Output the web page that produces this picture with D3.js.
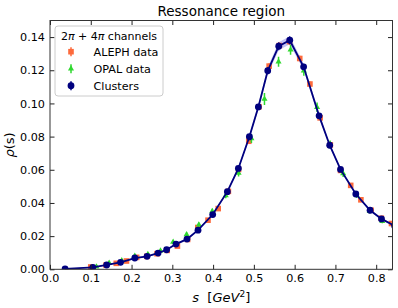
<!DOCTYPE html>
<html>
<head>
<meta charset="utf-8">
<script src="https://cdn.jsdelivr.net/npm/d3@7"></script>
<style>
  body { margin: 0; background: #fff; }
  text { font-family: "DejaVu Sans", sans-serif; fill: #000; }
</style>
</head>
<body>
<div id="chart"></div>
<script>
// cluster points (navy)
var clusterS = [0.037,0.105,0.139,0.173,0.208,0.238,0.265,0.286,0.309,0.336,0.363,0.399,0.435,0.462,0.489,0.511,0.534,0.561,0.588,0.622,0.660,0.686,0.7125,0.750,0.785,0.813,0.845];
var clusterRho = [0.0002,0.0012,0.0026,0.0042,0.0068,0.0078,0.0098,0.0118,0.0152,0.0182,0.0236,0.0330,0.0468,0.0608,0.0799,0.0979,0.1197,0.1345,0.1381,0.1221,0.0925,0.0748,0.0602,0.0454,0.0356,0.0304,0.0262];
var clusterErr = [0.0002,0.0003,0.0003,0.0003,0.0004,0.0004,0.0004,0.0005,0.0005,0.0006,0.0006,0.0007,0.0009,0.0011,0.0014,0.0017,0.0021,0.0024,0.0024,0.0019,0.0014,0.0011,0.0009,0.0008,0.0007,0.0006,0.0006];

// ALEPH data (orange squares)
var alephS = [0.100,0.1375,0.1625,0.1875,0.2125,0.2375,0.2625,0.2875,0.3125,0.3375,0.3625,0.3875,0.4125,0.4375,0.4625,0.4875,0.5125,0.5375,0.5625,0.5875,0.6125,0.6375,0.6625,0.6875,0.7125,0.7375,0.7625,0.7875,0.8125,0.8375];
var alephRho = [0.0014,0.0025,0.0036,0.0050,0.0072,0.0078,0.0094,0.0114,0.0140,0.0180,0.0252,0.0296,0.0366,0.0470,0.0602,0.0772,0.0980,0.1225,0.1349,0.1373,0.1271,0.1117,0.0913,0.0750,0.0596,0.0506,0.0419,0.0356,0.0308,0.0276];
var alephErr = [0.0004,0.0004,0.0004,0.0004,0.0005,0.0005,0.0005,0.0006,0.0006,0.0007,0.0008,0.0008,0.0009,0.0010,0.0012,0.0014,0.0016,0.0018,0.0019,0.0019,0.0017,0.0015,0.0013,0.0011,0.0010,0.0009,0.0008,0.0008,0.0008,0.0008];

// OPAL data (green triangles)
var opalS = [0.114,0.145,0.176,0.208,0.240,0.271,0.302,0.335,0.365,0.398,0.431,0.4625,0.494,0.526,0.5605,0.590,0.6225,0.655,0.687,0.719,0.752,0.784,0.815];
var opalRho = [0.0016,0.0038,0.0053,0.0080,0.0091,0.0112,0.0164,0.0210,0.0269,0.0350,0.0445,0.0580,0.0788,0.1027,0.1251,0.1324,0.1197,0.0977,0.0753,0.0577,0.0446,0.0350,0.0290];
var opalErr = [0.0008,0.0008,0.0009,0.0009,0.0010,0.0010,0.0011,0.0012,0.0013,0.0015,0.0017,0.0020,0.0027,0.0036,0.0030,0.0030,0.0030,0.0028,0.0024,0.0020,0.0016,0.0014,0.0013];

var xTicks = [0.0,0.1,0.2,0.3,0.4,0.5,0.6,0.7,0.8];
var yTicks = [0.00,0.02,0.04,0.06,0.08,0.10,0.12,0.14];

var width = 398, height = 308;
var margin = {top: 20.5, right: 5.5, bottom: 38.7, left: 50};
var iw = width - margin.left - margin.right;
var ih = height - margin.top - margin.bottom;

var cOrange = '#fd6a3c', cGreen = '#2fd82f', cNavy = '#00007f';

var svg = d3.select('#chart').append('svg')
  .attr('width', width)
  .attr('height', height);

var x = d3.scaleLinear().domain([0, 0.84]).range([0, iw]);
var y = d3.scaleLinear().domain([0, 0.15]).range([ih, 0]);

var g = svg.append('g').attr('transform', 'translate(' + margin.left + ',' + margin.top + ')');

svg.append('defs').append('clipPath').attr('id', 'clip')
  .append('rect').attr('width', iw).attr('height', ih);

var plot = g.append('g').attr('clip-path', 'url(#clip)');

var clusters = clusterS.map(function(s, i) { return {s: s, r: clusterRho[i], e: clusterErr[i]}; });
var aleph = alephS.map(function(s, i) { return {s: s, r: alephRho[i], e: alephErr[i]}; });
var opal = opalS.map(function(s, i) { return {s: s, r: opalRho[i], e: opalErr[i]}; });

// band round the cluster line
var area = d3.area()
  .x(function(d) { return x(d.s); })
  .y0(function(d) { return y(d.r - d.e); })
  .y1(function(d) { return y(d.r + d.e); });
plot.append('path').datum(clusters)
  .attr('d', area)
  .style('fill', '#9a9af0')
  .style('opacity', 0.6);

var errBars = function(data, color, w) {
  plot.append('g').selectAll('line')
    .data(data)
    .enter()
    .append('line')
    .attr('x1', function(d) { return x(d.s); })
    .attr('x2', function(d) { return x(d.s); })
    .attr('y1', function(d) { return y(d.r - d.e); })
    .attr('y2', function(d) { return y(d.r + d.e); })
    .style('stroke', color)
    .style('stroke-width', w);
};

// ALEPH
errBars(aleph, cOrange, 1.5);
plot.append('g').selectAll('rect')
  .data(aleph)
  .enter()
  .append('rect')
  .attr('x', function(d) { return x(d.s) - 2.8; })
  .attr('y', function(d) { return y(d.r) - 2.8; })
  .attr('width', 5.6)
  .attr('height', 5.6)
  .style('fill', cOrange);

// OPAL
errBars(opal, cGreen, 1.5);
var tri = d3.symbol().type(d3.symbolTriangle).size(16);
plot.append('g').selectAll('path')
  .data(opal)
  .enter()
  .append('path')
  .attr('d', tri)
  .attr('transform', function(d) { return 'translate(' + x(d.s) + ',' + y(d.r) + ')'; })
  .style('fill', cGreen);

// clusters
var line = d3.line()
  .x(function(d) { return x(d.s); })
  .y(function(d) { return y(d.r); });
plot.append('path').datum(clusters)
  .attr('d', line)
  .style('fill', 'none')
  .style('stroke', cNavy)
  .style('stroke-width', 1.8);
errBars(clusters, cNavy, 1.2);
plot.append('g').selectAll('circle')
  .data(clusters)
  .enter()
  .append('circle')
  .attr('cx', function(d) { return x(d.s); })
  .attr('cy', function(d) { return y(d.r); })
  .attr('r', 3.4)
  .style('fill', cNavy);

// axes, ticks pointing in
var axStyle = function(sel) {
  sel.select('.domain').remove();
  sel.selectAll('.tick line').style('stroke', '#222');
  sel.selectAll('text').style('font-size', '11.2px').style('font-family', '"DejaVu Sans", sans-serif');
};
g.append('g').attr('transform', 'translate(0,' + ih + ')')
  .call(d3.axisBottom(x).tickValues(xTicks).tickFormat(d3.format('.1f')).tickSizeInner(-4.5).tickPadding(5))
  .call(axStyle);
g.append('g')
  .call(d3.axisLeft(y).tickValues(yTicks).tickFormat(d3.format('.2f')).tickSizeInner(-4.5).tickPadding(5))
  .call(axStyle);
g.append('g')
  .call(d3.axisTop(x).tickValues(xTicks).tickFormat('').tickSizeInner(-4.5))
  .call(axStyle);
g.append('g').attr('transform', 'translate(' + iw + ',0)')
  .call(d3.axisRight(y).tickValues(yTicks).tickFormat('').tickSizeInner(-4.5))
  .call(axStyle);

g.append('rect')
  .attr('width', iw)
  .attr('height', ih)
  .style('fill', 'none')
  .style('stroke', '#333')
  .style('stroke-width', 1);

// title and axis labels
svg.append('text')
  .attr('x', margin.left + iw / 2)
  .attr('y', 15.5)
  .attr('text-anchor', 'middle')
  .style('font-size', '13.5px')
  .text('Ressonance region');

var xl = svg.append('text')
  .attr('x', margin.left + iw / 2)
  .attr('y', 301.5)
  .attr('text-anchor', 'middle')
  .style('font-size', '13px');
xl.append('tspan').style('font-style', 'italic').text('s');
xl.append('tspan').attr('xml:space', 'preserve').text('\u00a0\u00a0[');
xl.append('tspan').style('font-style', 'italic').text('GeV');
xl.append('tspan').attr('dy', -5).style('font-size', '9px').text('2');
xl.append('tspan').attr('dy', 5).text(']');

var yl = svg.append('text')
  .attr('transform', 'translate(14,' + (margin.top + ih / 2) + ') rotate(-90)')
  .attr('text-anchor', 'middle')
  .style('font-size', '13px');
yl.append('tspan').style('font-style', 'italic').text('\u03c1');
yl.append('tspan').text('(s)');

// legend
var lg = svg.append('g').attr('transform', 'translate(55,26)');
lg.append('rect')
  .attr('width', 108)
  .attr('height', 70)
  .attr('rx', 3)
  .style('fill', 'white')
  .style('fill-opacity', 0.85)
  .style('stroke', '#ccc');
var lt = lg.append('text')
  .attr('x', 54)
  .attr('y', 13.5)
  .attr('text-anchor', 'middle')
  .style('font-size', '11px');
lt.append('tspan').text('2');
lt.append('tspan').style('font-style', 'italic').text('\u03c0');
lt.append('tspan').text(' + 4');
lt.append('tspan').style('font-style', 'italic').text('\u03c0');
lt.append('tspan').text(' channels');

var legendNames = ['ALEPH data', 'OPAL data', 'Clusters'];
var legendColors = [cOrange, cGreen, cNavy];
legendNames.forEach(function(name, i) {
  var cy = 25.7 + i * 17;
  lg.append('line')
    .attr('x1', 16).attr('x2', 16)
    .attr('y1', cy - 4.5).attr('y2', cy + 4.5)
    .style('stroke', legendColors[i])
    .style('stroke-width', 1.5);
  if (i == 0) {
    lg.append('rect').attr('x', 13.2).attr('y', cy - 2.8).attr('width', 5.6).attr('height', 5.6).style('fill', cOrange);
  } else if (i == 1) {
    lg.append('path').attr('d', tri).attr('transform', 'translate(16,' + cy + ')').style('fill', cGreen);
  } else {
    lg.append('circle').attr('cx', 16).attr('cy', cy).attr('r', 3.4).style('fill', cNavy);
  }
  lg.append('text')
    .attr('x', 38.5)
    .attr('y', cy + 4)
    .style('font-size', '11.2px')
    .text(name);
});
</script>
</body>
</html>
